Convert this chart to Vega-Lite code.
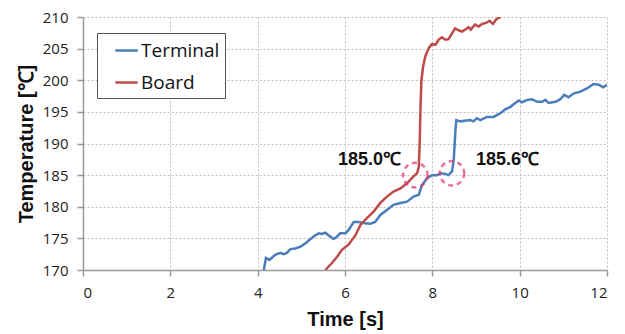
{
  "$schema": "https://vega.github.io/schema/vega-lite/v6.json",
  "width": 524,
  "height": 253,
  "autosize": "none",
  "padding": {"left": 83, "top": 17, "right": 18, "bottom": 64},
  "background": "white",
  "config": {
    "view": {"stroke": null},
    "axis": {
      "labelFont": "Open Sans",
      "labelFontSize": 15,
      "labelColor": "#222",
      "labelOverlap": false,
      "titleFont": "Liberation Sans",
      "titleFontWeight": "bold",
      "titleFontSize": 20,
      "titleColor": "#111",
      "domainColor": "#9a9a9a",
      "domainWidth": 1.5,
      "tickColor": "#9a9a9a",
      "tickWidth": 1.5,
      "tickSize": 6,
      "gridColor": "#c9bab2",
      "gridDash": [2, 2],
      "gridWidth": 1
    }
  },
  "layer": [
    {
      "data": {
        "values": [
          {"t": 4.14, "temp": 170.0, "series": "Terminal"},
          {"t": 4.19, "temp": 171.9, "series": "Terminal"},
          {"t": 4.27, "temp": 171.6, "series": "Terminal"},
          {"t": 4.40, "temp": 172.4, "series": "Terminal"},
          {"t": 4.52, "temp": 172.7, "series": "Terminal"},
          {"t": 4.59, "temp": 172.5, "series": "Terminal"},
          {"t": 4.67, "temp": 172.7, "series": "Terminal"},
          {"t": 4.75, "temp": 173.3, "series": "Terminal"},
          {"t": 4.86, "temp": 173.4, "series": "Terminal"},
          {"t": 4.98, "temp": 173.7, "series": "Terminal"},
          {"t": 5.09, "temp": 174.2, "series": "Terminal"},
          {"t": 5.21, "temp": 174.9, "series": "Terminal"},
          {"t": 5.32, "temp": 175.5, "series": "Terminal"},
          {"t": 5.40, "temp": 175.8, "series": "Terminal"},
          {"t": 5.47, "temp": 175.7, "series": "Terminal"},
          {"t": 5.55, "temp": 175.9, "series": "Terminal"},
          {"t": 5.62, "temp": 175.5, "series": "Terminal"},
          {"t": 5.74, "temp": 174.9, "series": "Terminal"},
          {"t": 5.82, "temp": 175.3, "series": "Terminal"},
          {"t": 5.89, "temp": 175.8, "series": "Terminal"},
          {"t": 6.01, "temp": 175.8, "series": "Terminal"},
          {"t": 6.08, "temp": 176.3, "series": "Terminal"},
          {"t": 6.20, "temp": 177.6, "series": "Terminal"},
          {"t": 6.31, "temp": 177.6, "series": "Terminal"},
          {"t": 6.46, "temp": 177.4, "series": "Terminal"},
          {"t": 6.58, "temp": 177.3, "series": "Terminal"},
          {"t": 6.69, "temp": 177.6, "series": "Terminal"},
          {"t": 6.81, "temp": 178.7, "series": "Terminal"},
          {"t": 6.96, "temp": 179.5, "series": "Terminal"},
          {"t": 7.11, "temp": 180.3, "series": "Terminal"},
          {"t": 7.27, "temp": 180.6, "series": "Terminal"},
          {"t": 7.42, "temp": 180.8, "series": "Terminal"},
          {"t": 7.57, "temp": 181.6, "series": "Terminal"},
          {"t": 7.69, "temp": 181.9, "series": "Terminal"},
          {"t": 7.76, "temp": 183.4, "series": "Terminal"},
          {"t": 7.88, "temp": 184.5, "series": "Terminal"},
          {"t": 7.99, "temp": 185.0, "series": "Terminal"},
          {"t": 8.11, "temp": 185.0, "series": "Terminal"},
          {"t": 8.19, "temp": 185.3, "series": "Terminal"},
          {"t": 8.30, "temp": 185.2, "series": "Terminal"},
          {"t": 8.37, "temp": 185.0, "series": "Terminal"},
          {"t": 8.45, "temp": 185.6, "series": "Terminal"},
          {"t": 8.49, "temp": 187.4, "series": "Terminal"},
          {"t": 8.53, "temp": 192.2, "series": "Terminal"},
          {"t": 8.55, "temp": 193.7, "series": "Terminal"},
          {"t": 8.64, "temp": 193.5, "series": "Terminal"},
          {"t": 8.75, "temp": 193.6, "series": "Terminal"},
          {"t": 8.87, "temp": 193.7, "series": "Terminal"},
          {"t": 8.94, "temp": 193.5, "series": "Terminal"},
          {"t": 9.02, "temp": 194.0, "series": "Terminal"},
          {"t": 9.10, "temp": 193.7, "series": "Terminal"},
          {"t": 9.25, "temp": 194.2, "series": "Terminal"},
          {"t": 9.40, "temp": 194.2, "series": "Terminal"},
          {"t": 9.56, "temp": 194.8, "series": "Terminal"},
          {"t": 9.67, "temp": 195.4, "series": "Terminal"},
          {"t": 9.79, "temp": 195.8, "series": "Terminal"},
          {"t": 9.90, "temp": 196.4, "series": "Terminal"},
          {"t": 9.98, "temp": 196.8, "series": "Terminal"},
          {"t": 10.05, "temp": 196.5, "series": "Terminal"},
          {"t": 10.17, "temp": 196.9, "series": "Terminal"},
          {"t": 10.28, "temp": 197.0, "series": "Terminal"},
          {"t": 10.40, "temp": 196.6, "series": "Terminal"},
          {"t": 10.51, "temp": 196.6, "series": "Terminal"},
          {"t": 10.59, "temp": 196.9, "series": "Terminal"},
          {"t": 10.66, "temp": 196.4, "series": "Terminal"},
          {"t": 10.82, "temp": 196.6, "series": "Terminal"},
          {"t": 10.93, "temp": 197.0, "series": "Terminal"},
          {"t": 11.02, "temp": 197.7, "series": "Terminal"},
          {"t": 11.12, "temp": 197.3, "series": "Terminal"},
          {"t": 11.23, "temp": 197.9, "series": "Terminal"},
          {"t": 11.39, "temp": 198.2, "series": "Terminal"},
          {"t": 11.54, "temp": 198.7, "series": "Terminal"},
          {"t": 11.69, "temp": 199.4, "series": "Terminal"},
          {"t": 11.81, "temp": 199.3, "series": "Terminal"},
          {"t": 11.91, "temp": 198.9, "series": "Terminal"},
          {"t": 12.0, "temp": 199.3, "series": "Terminal"},
          {"t": 5.55, "temp": 170.0, "series": "Board"},
          {"t": 5.70, "temp": 171.1, "series": "Board"},
          {"t": 5.82, "temp": 172.1, "series": "Board"},
          {"t": 5.93, "temp": 173.2, "series": "Board"},
          {"t": 6.08, "temp": 174.0, "series": "Board"},
          {"t": 6.24, "temp": 175.5, "series": "Board"},
          {"t": 6.35, "temp": 177.1, "series": "Board"},
          {"t": 6.50, "temp": 178.2, "series": "Board"},
          {"t": 6.65, "temp": 179.2, "series": "Board"},
          {"t": 6.81, "temp": 180.6, "series": "Board"},
          {"t": 6.96, "temp": 181.6, "series": "Board"},
          {"t": 7.11, "temp": 182.4, "series": "Board"},
          {"t": 7.27, "temp": 182.9, "series": "Board"},
          {"t": 7.42, "temp": 183.7, "series": "Board"},
          {"t": 7.57, "temp": 184.8, "series": "Board"},
          {"t": 7.65, "temp": 185.3, "series": "Board"},
          {"t": 7.69, "temp": 186.3, "series": "Board"},
          {"t": 7.71, "temp": 190.0, "series": "Board"},
          {"t": 7.73, "temp": 196.0, "series": "Board"},
          {"t": 7.75, "temp": 200.0, "series": "Board"},
          {"t": 7.79, "temp": 202.2, "series": "Board"},
          {"t": 7.84, "temp": 203.8, "series": "Board"},
          {"t": 7.92, "temp": 205.1, "series": "Board"},
          {"t": 7.99, "temp": 205.7, "series": "Board"},
          {"t": 8.07, "temp": 205.6, "series": "Board"},
          {"t": 8.14, "temp": 206.4, "series": "Board"},
          {"t": 8.22, "temp": 206.8, "series": "Board"},
          {"t": 8.30, "temp": 206.4, "series": "Board"},
          {"t": 8.37, "temp": 206.5, "series": "Board"},
          {"t": 8.45, "temp": 207.4, "series": "Board"},
          {"t": 8.52, "temp": 208.2, "series": "Board"},
          {"t": 8.60, "temp": 207.9, "series": "Board"},
          {"t": 8.68, "temp": 207.7, "series": "Board"},
          {"t": 8.75, "temp": 208.0, "series": "Board"},
          {"t": 8.83, "temp": 208.4, "series": "Board"},
          {"t": 8.88, "temp": 208.0, "series": "Board"},
          {"t": 8.98, "temp": 208.8, "series": "Board"},
          {"t": 9.06, "temp": 208.5, "series": "Board"},
          {"t": 9.14, "temp": 208.9, "series": "Board"},
          {"t": 9.24, "temp": 209.1, "series": "Board"},
          {"t": 9.31, "temp": 209.4, "series": "Board"},
          {"t": 9.39, "temp": 208.9, "series": "Board"},
          {"t": 9.46, "temp": 209.6, "series": "Board"},
          {"t": 9.56, "temp": 210.0, "series": "Board"}
        ]
      },
      "mark": {"type": "line", "strokeWidth": 2.5, "clip": true, "interpolate": "linear"},
      "encoding": {
        "x": {
          "field": "t", "type": "quantitative",
          "scale": {"domain": [0, 12], "nice": false, "zero": false},
          "axis": {"values": [0, 2, 4, 6, 8, 10, 12], "title": "Time [s]", "labelPadding": 9, "titlePadding": 9, "labelOverlap": false}
        },
        "y": {
          "field": "temp", "type": "quantitative",
          "scale": {"domain": [170, 210], "nice": false, "zero": false},
          "axis": {"values": [170, 175, 180, 185, 190, 195, 200, 205, 210], "tickCount": 9, "title": "Temperature [℃]", "labelPadding": 9, "titlePadding": 6, "labelOverlap": false}
        },
        "color": {
          "field": "series", "type": "nominal",
          "scale": {"domain": ["Terminal", "Board"], "range": ["#4a7ebb", "#be4b48"]},
          "legend": {
            "title": null,
            "orient": "none",
            "legendX": 14,
            "legendY": 16,
            "symbolType": "stroke",
            "symbolSize": 500,
            "symbolStrokeWidth": 2.5,
            "symbolOffset": 12,
            "labelFont": "Open Sans",
            "labelFontSize": 19,
            "labelColor": "#111",
            "labelOffset": 2,
            "labelExpr": "datum.label + '\u2003'",
            "rowPadding": 9,
            "padding": 5,
            "strokeColor": "#555",
            "fillColor": "white",
            "cornerRadius": 0
          }
        },
        "order": {"field": "series", "sort": "descending"}
      }
    },
    {
      "data": {"values": [{"t": 7.61, "temp": 185.0}, {"t": 8.45, "temp": 185.3}]},
      "mark": {"type": "point", "shape": "circle", "size": 600, "filled": false, "stroke": "#e5336f", "strokeWidth": 2.5, "strokeDash": [5, 4]},
      "encoding": {
        "x": {"field": "t", "type": "quantitative"},
        "y": {"field": "temp", "type": "quantitative"}
      }
    },
    {
      "data": {"values": [{"t": 6.56, "temp": 187.4, "label": "185.0℃"}, {"t": 9.72, "temp": 187.4, "label": "185.6℃"}]},
      "mark": {"type": "text", "font": "Liberation Sans", "fontWeight": "bold", "fontSize": 18, "color": "#111", "align": "center", "baseline": "middle"},
      "encoding": {
        "x": {"field": "t", "type": "quantitative"},
        "y": {"field": "temp", "type": "quantitative"},
        "text": {"field": "label"}
      }
    }
  ]
}
